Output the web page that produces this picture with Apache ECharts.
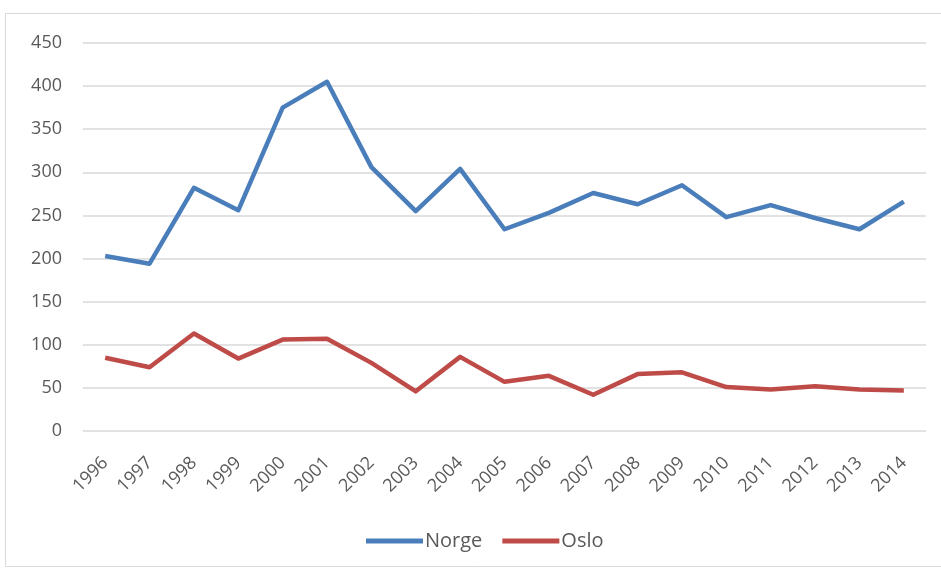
<!DOCTYPE html>
<html>
<head>
<meta charset="utf-8">
<script src="https://cdn.jsdelivr.net/npm/echarts@6/dist/echarts.min.js"></script>
<style>
  html, body { margin: 0; padding: 0; background: #ffffff; }
  #chart { width: 941px; height: 569px; }
</style>
</head>
<body>
<div id="chart"></div>
<script>
// Years on the category axis
const years = ['1996','1997','1998','1999','2000','2001','2002','2003','2004','2005',
               '2006','2007','2008','2009','2010','2011','2012','2013','2014'];
// Series values
const norge = [203, 194, 282, 256, 375, 405, 306, 255, 304, 234,
               253, 276, 263, 285, 248, 262, 247, 234, 266];
const oslo  = [85, 74, 113, 84, 106, 107, 79, 46, 86, 57,
               64, 42, 66, 68, 51, 48, 52, 48, 47];
// Value axis ticks
const yMin = 0, yMax = 450, yStep = 50;

const font = '"Open Sans", Lato, sans-serif';
const textColor = '#595959';

const chart = echarts.init(document.getElementById('chart'), null, { renderer: 'canvas' });
chart.setOption({
  animation: false,
  backgroundColor: '#ffffff',
  graphic: [{
    type: 'rect',
    shape: { x: 5.5, y: 13.5, width: 945, height: 553 },
    style: { fill: 'none', stroke: '#d9d9d9', lineWidth: 1 },
    silent: true
  }],
  grid: { left: 83, right: 15, top: 43, bottom: 138, containLabel: false },
  xAxis: {
    type: 'category',
    data: years,
    boundaryGap: true,
    axisLine: { show: false },
    axisTick: { show: false },
    axisLabel: {
      rotate: 45, margin: 29, color: textColor,
      fontFamily: font, fontSize: 18, interval: 0
    }
  },
  yAxis: {
    type: 'value',
    min: yMin, max: yMax, interval: yStep,
    axisLine: { show: false },
    axisTick: { show: false },
    axisLabel: { color: textColor, fontFamily: font, fontSize: 18, margin: 21 },
    splitLine: { lineStyle: { color: '#d9d9d9', width: 1.5 } }
  },
  legend: {
    top: 526,
    left: 361,
    itemWidth: 57,
    itemHeight: 5,
    itemGap: 20,
    icon: 'rect',
    textStyle: { color: textColor, fontFamily: font, fontSize: 20, padding: [0, 0, 0, -3] },
    data: ['Norge', 'Oslo']
  },
  series: [
    {
      name: 'Norge', type: 'line', data: norge,
      symbol: 'none', color: '#4a7ebb',
      lineStyle: { width: 4.5, color: '#4a7ebb', join: 'round' }
    },
    {
      name: 'Oslo', type: 'line', data: oslo,
      symbol: 'none', color: '#be4b48',
      lineStyle: { width: 4.5, color: '#be4b48', join: 'round' }
    }
  ]
});
</script>
</body>
</html>
